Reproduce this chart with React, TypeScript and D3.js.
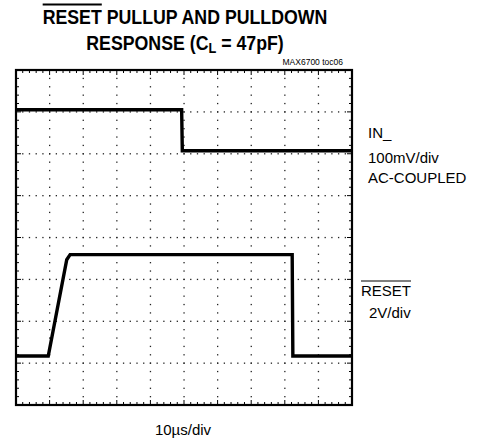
import { useEffect, useRef } from "react";
import * as d3 from "d3";

// Scope traces: time in µs, level in divisions (+4 = top of screen, -4 = bottom)
const inTime = [0, 49.3, 49.5, 100];
const inLevel = [3.05, 3.05, 2.07, 2.07];
const resetTime = [0, 9.6, 15.1, 16.1, 82.2, 82.4, 100];
const resetLevel = [-2.83, -2.83, -0.53, -0.41, -0.41, -2.83, -2.83];

const xMajor = d3.range(0, 101, 10);
const yMajor = d3.range(-4, 5, 1);

const titleLine1 = ["RESET", " PULLUP AND PULLDOWN"];
const titleLine2 = ["RESPONSE (C", "L", " = 47pF)"];
const figId = "MAX6700 toc06";
const inLabels = ["IN_", "100mV/div", "AC-COUPLED"];
const resetLabels = ["RESET", "2V/div"];
const timeLabel = "10µs/div";

export default function App() {
    const ref = useRef<SVGSVGElement>(null);

    useEffect(() => {
        const el = ref.current;
        if(!el) return;
        document.body.style.margin = "0";
        const svg = d3.select(el);
        svg.selectAll("*").remove();

        const font = "'Liberation Sans', Arial, sans-serif";
        const plot = {left: 16, right: 352, top: 70, bottom: 405};
        const x = d3.scaleLinear().domain([0, 100]).range([plot.left, plot.right]);
        const y = d3.scaleLinear().domain([-4, 4]).range([plot.bottom, plot.top]);

        const xMinor = d3.range(0, 100.001, 2);
        const yMinor = d3.range(-4, 4.001, 0.2);
        const isMajor = (v: number, step: number) => Math.abs(v / step - Math.round(v / step)) < 1e-6;

        // dotted graticule
        const grid = svg.append("g").attr("fill", "#222");
        xMajor.slice(1, -1).forEach((t) => {
            yMinor.slice(1, -1).forEach((v) => {
                grid.append("rect").attr("x", x(t) - 0.6).attr("y", y(v) - 0.6).attr("width", 1.3).attr("height", 1.3);
            });
        });
        yMajor.slice(1, -1).forEach((v) => {
            xMinor.slice(1, -1).forEach((t) => {
                grid.append("rect").attr("x", x(t) - 0.6).attr("y", y(v) - 0.6).attr("width", 1.3).attr("height", 1.3);
            });
        });

        // edge ticks
        const ticks = svg.append("g").attr("stroke", "#000").attr("stroke-width", 1);
        xMinor.slice(1, -1).forEach((t) => {
            const len = isMajor(t, 10) ? 5 : 3;
            ticks.append("line").attr("x1", x(t)).attr("x2", x(t)).attr("y1", plot.top).attr("y2", plot.top + len);
            ticks.append("line").attr("x1", x(t)).attr("x2", x(t)).attr("y1", plot.bottom).attr("y2", plot.bottom - len);
        });
        yMinor.slice(1, -1).forEach((v) => {
            const len = isMajor(v, 1) ? 5 : 3;
            ticks.append("line").attr("y1", y(v)).attr("y2", y(v)).attr("x1", plot.left).attr("x2", plot.left + len);
            ticks.append("line").attr("y1", y(v)).attr("y2", y(v)).attr("x1", plot.right).attr("x2", plot.right - len);
        });

        // frame
        svg.append("rect")
            .attr("x", plot.left).attr("y", plot.top)
            .attr("width", plot.right - plot.left).attr("height", plot.bottom - plot.top)
            .attr("fill", "none").attr("stroke", "#000").attr("stroke-width", 2.2);

        // traces
        const line = d3.line<[number, number]>().x((d) => x(d[0])).y((d) => y(d[1]));
        const traces: [number[], number[]][] = [[inTime, inLevel], [resetTime, resetLevel]];
        traces.forEach(([ts, vs]) => {
            svg.append("path")
                .datum(ts.map((t, i) => [t, vs[i]] as [number, number]))
                .attr("d", line)
                .attr("fill", "none")
                .attr("stroke", "#000")
                .attr("stroke-width", 3.4)
                .attr("stroke-linejoin", "miter");
        });

        // overline helper: draws a bar over chars [from, to] of a text element
        const overline = (g: any, textNode: SVGTextElement, from: number, to: number, yPos: number, w: number) => {
            const a = textNode.getExtentOfChar(from);
            const b = textNode.getExtentOfChar(to);
            g.append("line")
                .attr("x1", a.x).attr("x2", b.x + b.width)
                .attr("y1", yPos).attr("y2", yPos)
                .attr("stroke", "#000").attr("stroke-width", w);
        };

        // title (condensed bold)
        const tg = svg.append("g").attr("transform", "translate(185,0) scale(0.91,1)");
        const t1 = tg.append("text")
            .attr("x", 0).attr("y", 24).attr("text-anchor", "middle")
            .attr("font-family", font).attr("font-weight", "bold").attr("font-size", 19.5);
        titleLine1.forEach((s) => t1.append("tspan").text(s));
        overline(tg, t1.node() as SVGTextElement, 0, titleLine1[0].length - 1, 4.5, 2);

        const t2 = tg.append("text")
            .attr("x", 0).attr("y", 50).attr("text-anchor", "middle")
            .attr("font-family", font).attr("font-weight", "bold").attr("font-size", 19.5);
        t2.append("tspan").text(titleLine2[0]);
        t2.append("tspan").attr("font-size", 14).attr("dy", 3).text(titleLine2[1]);
        t2.append("tspan").attr("dy", -3).text(titleLine2[2]);

        svg.append("text")
            .attr("x", 343).attr("y", 65).attr("text-anchor", "end")
            .attr("font-family", font).attr("font-size", 8.5).text(figId);

        // channel labels
        const inY = [138, 163, 183];
        inLabels.forEach((s, i) => {
            svg.append("text").attr("x", 368).attr("y", inY[i])
                .attr("font-family", font).attr("font-size", 15).text(s);
        });
        const rl = svg.append("text").attr("x", 361).attr("y", 296)
            .attr("font-family", font).attr("font-size", 15).text(resetLabels[0]);
        overline(svg, rl.node() as SVGTextElement, 0, resetLabels[0].length - 1, 281, 1.2);
        svg.append("text").attr("x", 369).attr("y", 318)
            .attr("font-family", font).attr("font-size", 15).text(resetLabels[1]);

        svg.append("text").attr("x", 183).attr("y", 435).attr("text-anchor", "middle")
            .attr("font-family", font).attr("font-size", 15).text(timeLabel);
    }, []);

    return <svg ref={ref} width={483} height={440} style={{display: "block", background: "#fff"}} />;
}
